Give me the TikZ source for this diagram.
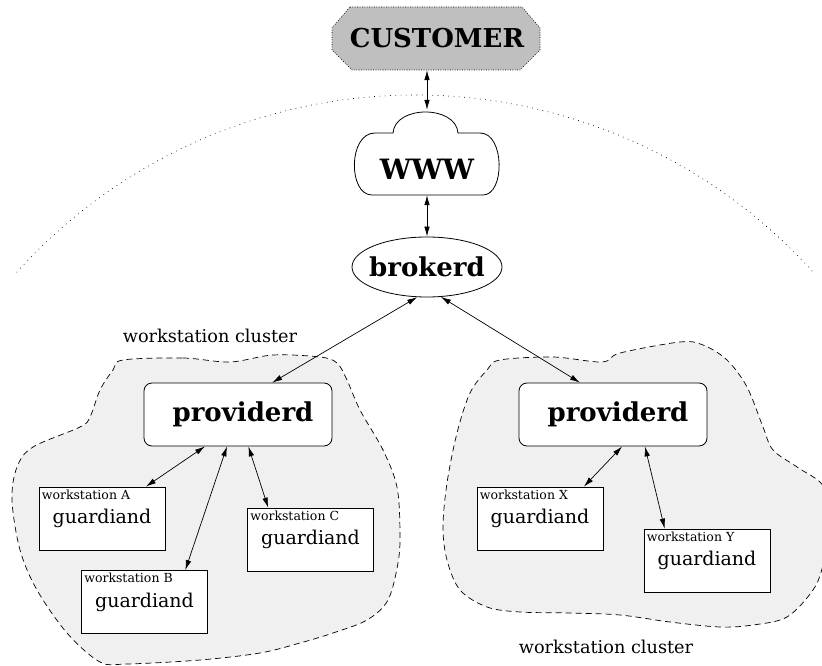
\documentclass[tikz,border=0pt]{standalone}
\usepackage{fontspec}
\setmainfont{DejaVu Serif}
\usetikzlibrary{positioning}
\usetikzlibrary{arrows.meta,shapes.geometric}
\usetikzlibrary{calc}
\tikzstyle{proc}=[rectangle,rounded corners=8pt,draw,line width=0.8pt,fill=white,minimum width=188pt,minimum height=63pt,inner sep=0pt,font=\fontsize{26}{30}\selectfont\bfseries]
\tikzstyle{broker}=[ellipse,draw,line width=0.8pt,fill=white,minimum width=150pt,minimum height=60pt,inner xsep=-6pt,inner ysep=0pt,font=\fontsize{26}{30}\selectfont\bfseries]
\tikzstyle{guard}=[rectangle,draw,line width=0.8pt,fill=white,minimum width=126pt,minimum height=63pt,inner sep=0pt,font=\fontsize{19}{22}\selectfont]
\tikzstyle{wslabel}=[anchor=north west,inner sep=3pt,font=\fontsize{12.5}{14}\selectfont]
\tikzstyle{clusterlabel}=[font=\fontsize{17.7}{20}\selectfont]
\tikzstyle{blob}=[draw,fill=black!6,dash pattern=on 6pt off 4pt,line width=0.7pt]
\tikzstyle{custshape}=[draw,fill=black!25,dash pattern=on 0.8pt off 1.6pt,line width=0.7pt]
\tikzstyle{cloudshape}=[draw,fill=white,line width=0.8pt]
\tikzstyle{dedge}=[draw,line width=0.7pt,{Latex[length=10pt,width=5.5pt]}-{Latex[length=10pt,width=5.5pt]}]

\begin{document}
\begin{tikzpicture}[x=1pt,y=1pt]
\useasboundingbox (0,0) rectangle (822,665);

%clusters
\begin{scope}
  \clip (0,0) rectangle (822,665);
  \path[blob] plot[smooth cycle,tension=0.55] coordinates {(123,305) (183,307) (230,303) (273,310) (320,308) (337,302) (347,285) (360,255) (383,215) (397,178) (400,132) (398,102) (388,65) (367,45) (333,32) (300,22) (260,12) (200,5) (127,1) (100,3) (67,32) (37,75) (20,115) (12,165) (17,198) (33,218) (80,238) (90,248) (100,275) (113,295)};
  \path[blob] plot[smooth cycle,tension=0.55] coordinates {(500,305) (553,308) (602,303) (620,312) (680,323) (703,320) (727,305) (747,278) (763,238) (773,215) (797,198) (824,178) (830,140) (823,100) (813,75) (787,48) (753,40) (720,38) (670,43) (620,50) (570,52) (520,53) (487,58) (460,75) (447,105) (443,138) (447,182) (457,232) (470,272) (487,295)};
\end{scope}

%internet boundary
\coordinate (arcC) at (415,34);
\draw[dash pattern=on 0.8pt off 4.5pt,line width=0.6pt] ([shift={(138:536)}]arcC) arc[start angle=138,end angle=42,radius=536];

%customer
\path[custshape] (350,658) -- (522,658) -- (540,637) -- (540,615) -- (520,595) -- (352,595) -- (332,615) -- (332,637) -- cycle;
\node[minimum width=208pt,minimum height=63pt,inner sep=0pt,font=\fontsize{26}{30}\selectfont\bfseries] (customer) at (437,626.5) {CUSTOMER};

%www
\path[cloudshape] (372,470) .. controls (348,470) and (348,532) .. (375,532) -- (393,532) .. controls (395,560) and (456,560) .. (458,532) -- (480,532) .. controls (505,532) and (505,470) .. (483,470) -- cycle;
\node[anchor=base,inner sep=0pt,text height=69.5pt,text depth=15.5pt,font=\fontsize{28}{30}\selectfont\bfseries] (www) at (427,485.5) {WWW};

%broker
\node[broker] (brokerd) at (427,398) {brokerd};

%providers
\node[proc] (provL) at (238,250.5) {\hspace{10pt}providerd};
\node[proc] (provR) at (613,250.5) {\hspace{10pt}providerd};

%guardians
\foreach \pos/\name/\label in {{(102,146.5)/A/A}, {(144.5,63)/B/B}, {(310.5,125.5)/C/C}, {(540,146.5)/X/X}, {(707,104.5)/Y/Y}}
{
  \node[guard] (\name) at \pos {guardiand};
  \node[wslabel] (\name-lab) at (\name.north west) {workstation \label};
}

%cluster labels
\node[clusterlabel] (clusL) at (210,329) {workstation cluster};
\node[clusterlabel] (clusR) at (606,18) {workstation cluster};

% Connect
\path[dedge] (www.north |- customer.south) -- (www.north);
\path[dedge] (www.south) -- (brokerd.north);
\foreach \source/\dest in {brokerd.252/provL.43, brokerd.295/provR.136, provL.224/A.36, provL.251/B.38, provL.288/C.143, provR.286/X.36, provR.315/Y.143}
  \path[dedge] (\source) -- (\dest);

\end{tikzpicture}
\end{document}
